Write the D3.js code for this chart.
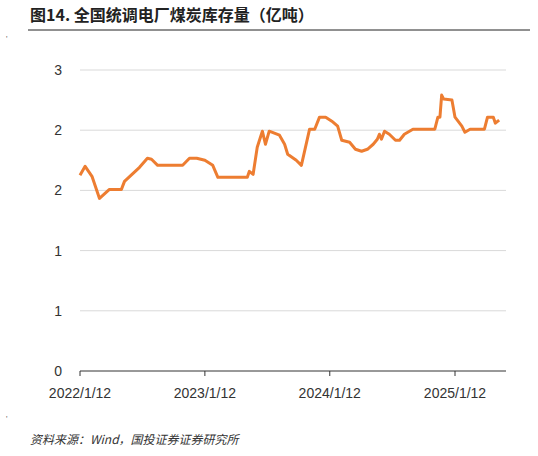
<!DOCTYPE html><html><head><meta charset="utf-8"><script src="https://cdn.jsdelivr.net/npm/d3@7"></script>
<style>body{margin:0;background:#fff}</style></head><body><svg id="c" width="538" height="456"></svg>
<script>
const dates=["2022-01-12","2022-01-27","2022-02-16","2022-03-10","2022-04-08","2022-05-13","2022-05-22","2022-07-05","2022-07-28","2022-08-09","2022-08-27","2022-11-08","2022-11-28","2022-12-19","2023-01-12","2023-02-04","2023-02-19","2023-05-16","2023-05-22","2023-06-02","2023-06-14","2023-06-29","2023-07-08","2023-07-19","2023-08-18","2023-09-02","2023-09-11","2023-10-06","2023-10-21","2023-11-14","2023-11-29","2023-12-13","2023-12-31","2024-01-18","2024-02-04","2024-02-16","2024-03-10","2024-03-27","2024-04-14","2024-05-01","2024-05-18","2024-05-30","2024-06-05","2024-06-11","2024-06-20","2024-07-04","2024-07-22","2024-08-03","2024-08-17","2024-09-11","2024-11-14","2024-11-23","2024-11-29","2024-12-04","2024-12-10","2025-01-03","2025-01-12","2025-02-01","2025-02-10","2025-02-25","2025-04-08","2025-04-17","2025-05-04","2025-05-10","2025-05-21"];
const values=[1.95,2.04,1.94,1.72,1.81,1.81,1.89,2.03,2.12,2.11,2.05,2.05,2.12,2.12,2.10,2.05,1.93,1.93,1.99,1.96,2.23,2.39,2.26,2.39,2.35,2.26,2.16,2.10,2.05,2.41,2.41,2.53,2.53,2.49,2.44,2.30,2.28,2.21,2.19,2.21,2.26,2.31,2.36,2.31,2.39,2.36,2.30,2.30,2.36,2.41,2.41,2.53,2.53,2.75,2.71,2.70,2.53,2.44,2.38,2.41,2.41,2.53,2.53,2.47,2.50];
const yTicks=[0,0.6,1.2,1.8,2.4,3];
const yTickLabels=["0","1","1","2","2","3"];
const xTicks=["2022-01-12","2023-01-12","2024-01-12","2025-01-12"];
const xTickLabels=["2022/1/12","2023/1/12","2024/1/12","2025/1/12"];
const svg=d3.select("#c"),P=d3.timeParse("%Y-%m-%d");
const x=d3.scaleTime().domain([P(xTicks[0]),P(xTicks[3])]).range([80,455]);
const y=d3.scaleLinear().domain([0,3]).range([371,70]);
const f="'Noto Sans CJK SC',sans-serif";
svg.append("text").attr("x",30).attr("y",21).attr("font-family",f).attr("font-weight","bold").attr("font-size",16).attr("fill","#222").text("图14. 全国统调电厂煤炭库存量（亿吨）");
svg.append("line").attr("x1",28).attr("x2",530).attr("y1",30).attr("y2",30).attr("stroke","#222").attr("stroke-width",1);
svg.append("text").attr("x",6).attr("y",42).attr("font-size",8).attr("fill","#555").text("'");
svg.append("text").attr("x",6).attr("y",422).attr("font-size",8).attr("fill","#555").text("'");
yTicks.forEach((t,i)=>{
 if(t>0) svg.append("line").attr("x1",80).attr("x2",506).attr("y1",y(t)).attr("y2",y(t)).attr("stroke","#d9d9d9");
 svg.append("text").attr("x",62).attr("y",y(t)+5).attr("text-anchor","end").attr("font-family","Liberation Sans,Arial").attr("font-size",14).attr("fill","#333").text(yTickLabels[i]);
});
svg.append("line").attr("x1",80).attr("x2",506).attr("y1",371).attr("y2",371).attr("stroke","#333");
xTicks.forEach((t,i)=>{
 svg.append("line").attr("x1",x(P(t))).attr("x2",x(P(t))).attr("y1",371).attr("y2",376).attr("stroke","#333");
 svg.append("text").attr("x",x(P(t))).attr("y",398).attr("text-anchor","middle").attr("font-family","Liberation Sans,Arial").attr("font-size",14).attr("fill","#333").text(xTickLabels[i]);
});
const data=dates.map((d,i)=>[P(d),values[i]]);
svg.append("path").datum(data).attr("fill","none").attr("stroke","#ED7D31").attr("stroke-width",3).attr("stroke-linejoin","round")
 .attr("d",d3.line().x(d=>x(d[0])).y(d=>y(d[1])));
svg.append("text").attr("x",30).attr("y",444).attr("font-family",f).attr("font-style","italic").attr("font-size",12).attr("fill","#333").text("资料来源：Wind，国投证券证券研究所");
</script></body></html>
